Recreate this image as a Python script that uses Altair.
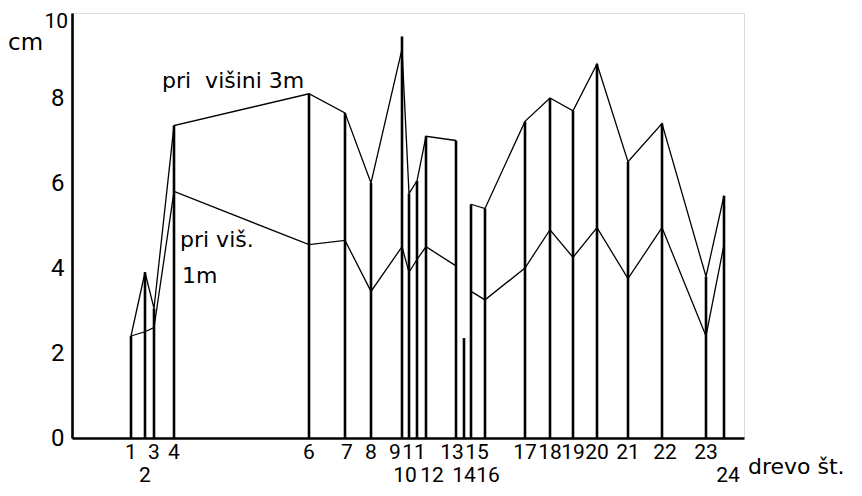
import altair as alt
import pandas as pd

# tree numbers (drevo št.) and their position along the horizontal axis
trees = [1, 2, 3, 4, 6, 7, 8, 9, 10, 11, 12, 13, 14, 15, 16, 17, 18, 19, 20, 21, 22, 23, 24]
position = [59, 73, 82, 102, 237, 273, 299, 330, 337, 345, 354, 384, 392, 399, 413,
            453, 478, 501, 525, 556, 590, 634, 652]
# height of each vertical stem (cm)
bar_top = [2.4, 3.9, 3.05, 7.35, 8.1, 7.65, 6.0, 9.45, 5.75, 6.05, 7.1, 7.0, 2.35, 5.5, 5.4,
           7.45, 8.0, 7.7, 8.8, 6.5, 7.4, 3.8, 5.7]
# diameter increment at 3 m height (cm)
upper_3m = [2.4, 3.9, 3.05, 7.35, 8.1, 7.65, 6.0, 9.15, 5.75, 6.05, 7.1, 7.0, None, 5.5, 5.4,
            7.45, 8.0, 7.7, 8.8, 6.5, 7.4, 3.8, 5.7]
# diameter increment at 1 m height (cm)
lower_1m = [2.4, 2.5, 2.6, 5.8, 4.55, 4.65, 3.45, 4.5, 3.9, 4.2, 4.5, 4.05, None, 3.45, 3.25,
            4.0, 4.9, 4.25, 4.95, 3.75, 4.95, 2.4, 4.55]
# tree labels printed on the second row
second_row = [2, 10, 12, 14, 16, 24]
y_ticks = [0, 2, 4, 6, 8]

# small label nudges (pixels) to mimic the hand lettering
nudge = {7: 2, 9: -7, 10: -4, 11: -3, 12: 6, 13: -4, 15: 6, 16: 3, 22: 3, 24: 4}

FONT_NUM = "Roboto"
FONT_TXT = "DejaVu Sans"

df_trees = pd.DataFrame({"tree": trees, "position": position, "bar_top": bar_top})

rows = []
for t, p, u, l in zip(trees, position, upper_3m, lower_1m):
    seg = 0 if t <= 13 else 1
    if u is not None:
        rows.append({"tree": t, "position": p, "value": u, "key": f"3m-{seg}"})
    if l is not None:
        rows.append({"tree": t, "position": p, "value": l, "key": f"1m-{seg}"})
df_lines = pd.DataFrame(rows)

df_labels = pd.DataFrame({
    "label": [str(t) for t in trees],
    "lx": [p + nudge.get(t, 0) for t, p in zip(trees, position)],
    "row": [2 if t in second_row else 1 for t in trees],
})

xs = alt.Scale(domain=[0, 672], nice=False, zero=False)
ys = alt.Scale(domain=[0, 10], nice=False)

stems = alt.Chart(df_trees).mark_rule(color="black", strokeWidth=2.6).encode(
    x=alt.X("position:Q", scale=xs,
            axis=alt.Axis(domain=True, domainColor="black", domainWidth=2.6,
                          ticks=False, labels=False, grid=False, title=None)),
    y=alt.Y("bar_top:Q", scale=ys,
            axis=alt.Axis(values=y_ticks, domain=True, domainColor="black", domainWidth=2.6,
                          ticks=False, grid=False, title=None, labelFont=FONT_NUM,
                          labelFontSize=24, labelColor="black", labelPadding=8)),
    y2=alt.datum(0),
)

lines = alt.Chart(df_lines).mark_line(color="black", strokeWidth=1.3).encode(
    x=alt.X("position:Q", scale=xs),
    y=alt.Y("value:Q", scale=ys),
    detail="key:N",
)

lab1 = alt.Chart(df_labels).transform_filter("datum.row == 1").mark_text(
    font=FONT_NUM, fontSize=21, color="black", baseline="middle", align="center"
).encode(x=alt.X("lx:Q", scale=xs), y=alt.value(440), text="label:N")

lab2 = alt.Chart(df_labels).transform_filter("datum.row == 2").mark_text(
    font=FONT_NUM, fontSize=21, color="black", baseline="middle", align="center"
).encode(x=alt.X("lx:Q", scale=xs), y=alt.value(463), text="label:N")


def note(txt, x, y, size, font=FONT_TXT, align="left", baseline="alphabetic"):
    return alt.Chart(pd.DataFrame({"t": [txt]})).mark_text(
        font=font, fontSize=size, color="black", align=align, baseline=baseline
    ).encode(x=alt.value(x), y=alt.value(y), text="t:N")


notes = [
    note("10", -4, -2, 21, font=FONT_NUM, align="right", baseline="top"),
    note("pri\u00a0\u00a0višini\u00a03m", 90, 75, 22),
    note("pri\u00a0viš.", 108, 234, 22),
    note("1m", 110, 270, 22),
    note("cm", -64, 37, 23),
    note("drevo\u00a0št.", 676, 461, 22),
]

chart = alt.layer(stems, lines, lab1, lab2, *notes).properties(
    width=672, height=425,
    padding={"left": 64, "top": 5, "right": 100, "bottom": 52},
    autosize=alt.AutoSizeParams(type="none"),
).configure_view(stroke=None).configure(background="white")

chart.save("out.html", embed_options={"renderer": "svg", "actions": False})
